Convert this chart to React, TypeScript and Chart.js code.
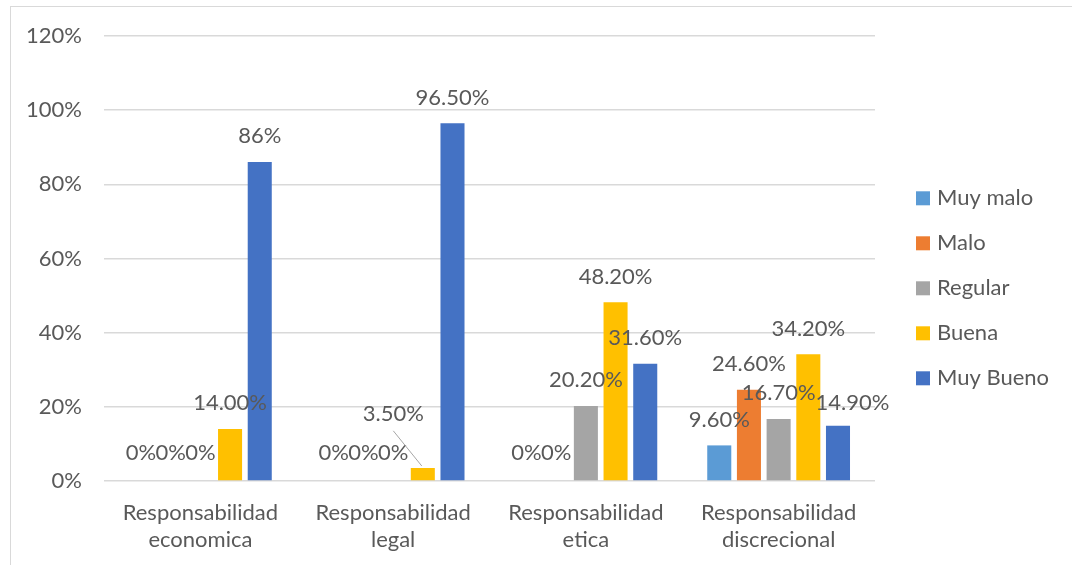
import { useEffect, useRef } from "react";
import { Chart, registerables } from "chart.js";

Chart.register(...registerables);

// Categories (two-line axis labels)
const categories: string[][] = [
  ["Responsabilidad", "economica"],
  ["Responsabilidad", "legal"],
  ["Responsabilidad", "etica"],
  ["Responsabilidad", "discrecional"],
];

const seriesNames = ["Muy malo", "Malo", "Regular", "Buena", "Muy Bueno"];
const seriesColors = ["#5B9BD5", "#ED7D31", "#A5A5A5", "#FFC000", "#4472C4"];

// Percent values per series
const muyMalo = [0, 0, 0, 9.6];
const malo = [0, 0, 0, 24.6];
const regular = [0, 0, 20.2, 16.7];
const buena = [14, 3.5, 48.2, 34.2];
const muyBueno = [86, 96.5, 31.6, 14.9];

// Decimal places used by each value label
const muyMaloDecimals = [0, 0, 0, 2];
const maloDecimals = [0, 0, 0, 2];
const regularDecimals = [0, 0, 2, 2];
const buenaDecimals = [2, 2, 2, 2];
const muyBuenoDecimals = [0, 2, 2, 2];

const yTicks = [0, 20, 40, 60, 80, 100, 120];

const seriesValues = [muyMalo, malo, regular, buena, muyBueno];
const seriesDecimals = [muyMaloDecimals, maloDecimals, regularDecimals, buenaDecimals, muyBuenoDecimals];

const FONT_FAMILY = "Lato, 'Open Sans', sans-serif";
const FONT_SIZE = 22;
const TEXT_COLOR = "#595959";
const GRID_COLOR = "#D9D9D9";

// Manual label placement tweaks: "series-category" -> [dx, dy]
const labelNudges: Record<string, [number, number]> = {
  "3-1": [-29.5, -28],
  "4-3": [14.5, 3],
};
const leaderLines = new Set(["3-1"]);

const valueLabels = {
  id: "valueLabels",
  afterDatasetsDraw(chart: Chart) {
    const { ctx } = chart;
    ctx.save();
    ctx.font = `${FONT_SIZE}px ${FONT_FAMILY}`;
    ctx.fillStyle = TEXT_COLOR;
    ctx.textAlign = "center";
    ctx.textBaseline = "middle";
    chart.data.datasets.forEach((ds, i) => {
      const meta = chart.getDatasetMeta(i);
      meta.data.forEach((bar: any, j: number) => {
        const v = ds.data[j] as number;
        const text = v.toFixed(seriesDecimals[i][j]) + "%";
        const key = `${i}-${j}`;
        let [dx, dy] = labelNudges[key] || [0, 0];
        if (v === 0) dy = -2;
        const x = bar.x + dx;
        const y = bar.y - 25.7 + dy;
        if (leaderLines.has(key)) {
          ctx.strokeStyle = "#A6A6A6";
          ctx.lineWidth = 1;
          ctx.beginPath();
          ctx.moveTo(x, y + 16.5);
          ctx.lineTo(bar.x - 1, bar.y - 2);
          ctx.stroke();
        }
        ctx.fillText(text, x, y);
      });
    });
    ctx.restore();
  },
};

const sideLegend = {
  id: "sideLegend",
  afterDraw(chart: Chart) {
    const { ctx, chartArea } = chart;
    ctx.save();
    ctx.font = `${FONT_SIZE}px ${FONT_FAMILY}`;
    ctx.textAlign = "left";
    ctx.textBaseline = "middle";
    chart.data.datasets.forEach((ds, i) => {
      const cy = 198.3 + i * 45;
      const bx = chartArea.right + 41;
      ctx.fillStyle = ds.backgroundColor as string;
      ctx.fillRect(bx, cy - 7, 14, 14);
      ctx.fillStyle = TEXT_COLOR;
      ctx.fillText(ds.label as string, bx + 21, cy);
    });
    ctx.restore();
  },
};

export default function App() {
  const canvasRef = useRef<HTMLCanvasElement | null>(null);

  useEffect(() => {
    if (!canvasRef.current) return;
    const chart = new Chart(canvasRef.current, {
      type: "bar",
      data: {
        labels: categories,
        datasets: seriesNames.map((name, i) => ({
          label: name,
          data: seriesValues[i],
          backgroundColor: seriesColors[i],
          borderWidth: 0,
          categoryPercentage: 0.77,
          barPercentage: 0.81,
        })),
      },
      options: {
        animation: false,
        responsive: false,
        layout: { padding: { top: 36, right: 197, left: 0, bottom: 0 } },
        plugins: {
          legend: { display: false },
          tooltip: { enabled: false },
        },
        scales: {
          x: {
            grid: { display: false, drawTicks: false },
            border: { display: false },
            ticks: {
              color: TEXT_COLOR,
              font: { family: FONT_FAMILY, size: FONT_SIZE, lineHeight: 27 / FONT_SIZE },
              padding: 18,
              maxRotation: 0,
              autoSkip: false,
            },
            afterFit(scale: any) {
              scale.height = 84;
            },
          },
          y: {
            min: 0,
            max: 120,
            afterBuildTicks(scale: any) {
              scale.ticks = yTicks.map((v) => ({ value: v }));
            },
            grid: { color: GRID_COLOR, lineWidth: 1.5, drawTicks: false },
            border: { display: false },
            ticks: {
              color: TEXT_COLOR,
              font: { family: FONT_FAMILY, size: FONT_SIZE },
              padding: 22,
              callback: (v: any) => `${v}%`,
            },
            afterFit(scale: any) {
              scale.width = 104;
            },
          },
        },
      },
      plugins: [valueLabels, sideLegend],
    });
    return () => chart.destroy();
  }, []);

  return (
    <div style={{ position: "fixed", left: 0, top: 0, width: 1072, height: 565, overflow: "hidden", background: "#fff" }}>
      <div
        style={{
          position: "absolute",
          left: 10,
          top: 6,
          width: 1100,
          height: 600,
          border: "1.5px solid #D9D9D9",
          boxSizing: "border-box",
        }}
      />
      <canvas ref={canvasRef} width={1072} height={565} style={{ position: "absolute", left: 0, top: 0 }} />
    </div>
  );
}
